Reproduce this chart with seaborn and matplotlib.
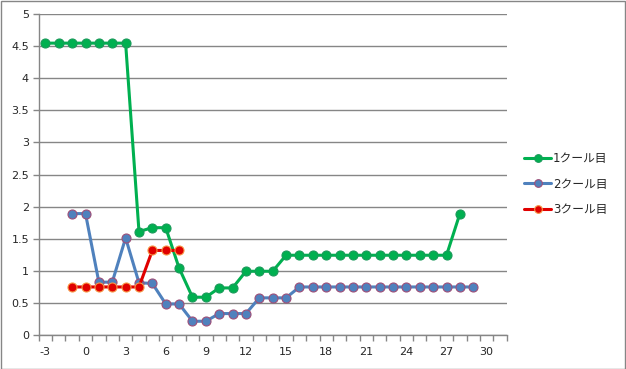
import matplotlib
matplotlib.use("Agg")
import matplotlib.pyplot as plt
import seaborn as sns
import pandas as pd
import numpy as np
from matplotlib.patches import Rectangle

# ---- data ----
x1 = list(range(-3, 29))
y1 = [4.55, 4.55, 4.55, 4.55, 4.55, 4.55, 4.55,
      1.61, 1.67, 1.67, 1.04, 0.585, 0.585, 0.73, 0.73,
      0.99, 0.99, 0.99] + [1.24] * 13 + [1.89]

x2 = list(range(-1, 30))
y2 = [1.89, 1.89, 0.82, 0.82, 1.51, 0.81, 0.80, 0.48, 0.48, 0.21, 0.21,
      0.33, 0.33, 0.33, 0.575, 0.575, 0.575] + [0.745] * 14

x3 = list(range(-1, 8))
y3 = [0.745, 0.745, 0.745, 0.745, 0.745, 0.745, 1.315, 1.315, 1.315]

labels = ["1クール目", "2クール目", "3クール目"]
line_colors = ["#00B050", "#4F81BD", "#E00000"]
edge_colors = ["#1A9A5A", "#9E4F78", "#F79646"]

x_ticks = list(range(-3, 31, 3))
y_ticks = [0, 0.5, 1, 1.5, 2, 2.5, 3, 3.5, 4, 4.5, 5]

# ---- figure ----
sns.set_style("white")
plt.rcParams["font.family"] = ["DejaVu Sans", "Noto Sans CJK JP"]
plt.rcParams["axes.unicode_minus"] = False

fig = plt.figure(figsize=(6.26, 3.69), dpi=100)
ax = fig.add_axes([38.7 / 626, 1 - 334.7 / 369, (506.7 - 38.7) / 626, (334.7 - 14.3) / 369])

for xs, ys, lab, lc, ec in zip([x1, x2, x3], [y1, y2, y3], labels, line_colors, edge_colors):
    df = pd.DataFrame({"x": xs, "y": ys})
    sns.lineplot(data=df, x="x", y="y", ax=ax, color=lc, linewidth=2.2,
                 marker="o", markersize=6.5, markeredgecolor=ec,
                 markeredgewidth=0.8, label=lab, zorder=3)

ax.set_xlim(-3.5, 31.5)
ax.set_ylim(0, 5)
ax.set_xlabel("")
ax.set_ylabel("")

ax.set_yticks(y_ticks)
ax.set_yticklabels([("%g" % v) for v in y_ticks])
ax.set_xticks(x_ticks)
ax.set_xticklabels([str(v) for v in x_ticks])
ax.set_xticks(np.arange(-3.5, 32, 1), minor=True)

ax.yaxis.grid(True, color="#868686", linewidth=1.0, zorder=0)
ax.xaxis.grid(False)
ax.set_axisbelow(True)

for s in ["top", "right"]:
    ax.spines[s].set_visible(False)
for s in ["left", "bottom"]:
    ax.spines[s].set_visible(True)
    ax.spines[s].set_color("#868686")
    ax.spines[s].set_linewidth(1.0)

ax.tick_params(axis="y", which="major", direction="out", length=4, width=1,
               color="#868686", labelsize=8, pad=3, left=True)
ax.tick_params(axis="x", which="major", length=0, labelsize=8, pad=9, bottom=True)
ax.tick_params(axis="x", which="minor", direction="out", length=4, width=1,
               color="#868686", bottom=True)

ax.legend_.remove()
handles, labs = ax.get_legend_handles_labels()
fig.legend(handles, labs, loc="center left", bbox_to_anchor=(524 / 626, 1 - 184 / 369),
           frameon=False, fontsize=8.5, handlelength=2.3, handletextpad=0.15,
           labelspacing=1.05, borderpad=0, borderaxespad=0, markerscale=0.85)

fig.patches.append(Rectangle((0.5 / 626, 0.5 / 369), 624.5 / 626, 367.5 / 369,
                             transform=fig.transFigure, fill=False,
                             edgecolor="#868686", linewidth=1.0))

fig.savefig("out.png", dpi=100)
